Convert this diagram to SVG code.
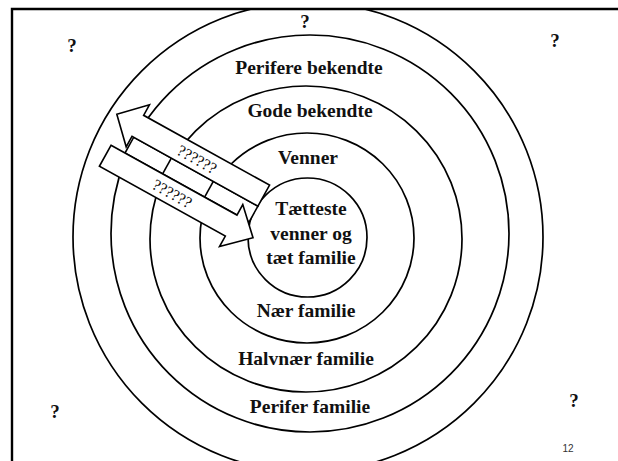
<svg xmlns="http://www.w3.org/2000/svg" width="618" height="461" viewBox="0 0 618 461">
  <style>
    .ring { fill: none; stroke: #000; stroke-width: 1.7; }
    .lbl { font-family: "Liberation Serif", "Times New Roman", serif; font-weight: bold; font-size: 19.5px; fill: #111; text-anchor: middle; }
    .q { font-family: "Liberation Serif", "Times New Roman", serif; font-weight: bold; font-size: 19px; fill: #111; text-anchor: middle; }
    .shape { fill: #fff; stroke: #000; stroke-width: 1.6; stroke-linejoin: miter; }
    .div { stroke: #000; stroke-width: 1.6; }
    .small { font-family: "Liberation Serif", "Times New Roman", serif; font-size: 16px; fill: #111; text-anchor: middle; }
    .pg { font-family: "Liberation Sans", Arial, sans-serif; font-size: 10px; fill: #333; text-anchor: middle; }
  </style>
  <defs>
    <clipPath id="frameclip"><rect x="0" y="9" width="618" height="452"/></clipPath>
  </defs>
  <rect width="618" height="461" fill="#fff"/>

  <g id="rings" clip-path="url(#frameclip)">
    <g id="ring-outer"><ellipse class="ring" cx="308" cy="237" rx="235" ry="235"/></g>
    <g id="ring-perifere"><ellipse class="ring" cx="310" cy="233.5" rx="199" ry="198.5"/></g>
    <g id="ring-gode"><ellipse class="ring" cx="306" cy="239" rx="156" ry="153"/></g>
    <g id="ring-venner"><ellipse class="ring" cx="307" cy="238" rx="107" ry="105"/></g>
    <g id="ring-inner"><ellipse class="ring" cx="307.5" cy="237.5" rx="59.5" ry="59.5"/></g>
  </g>

  <g id="frame" stroke="#000" stroke-width="2.4" fill="none">
    <path d="M12 461 V9 H618"/>
  </g>

  <g id="labels">
    <g id="n-perifere-bekendte"><text class="lbl" x="309" y="74">Perifere bekendte</text></g>
    <g id="n-gode-bekendte"><text class="lbl" x="310" y="117">Gode bekendte</text></g>
    <g id="n-venner"><text class="lbl" x="308" y="164">Venner</text></g>
    <g id="n-taetteste">
      <text class="lbl" x="311" y="215">Tætteste</text>
      <text class="lbl" x="311" y="240">venner og</text>
      <text class="lbl" x="311" y="264">tæt familie</text>
    </g>
    <g id="n-naer-familie"><text class="lbl" x="306" y="317">Nær familie</text></g>
    <g id="n-halvnaer-familie"><text class="lbl" x="306" y="365">Halvnær familie</text></g>
    <g id="n-perifer-familie"><text class="lbl" x="310" y="413">Perifer familie</text></g>
  </g>

  <g id="questions">
    <text class="q" x="305" y="28">?</text>
    <text class="q" x="72" y="52">?</text>
    <text class="q" x="555" y="47">?</text>
    <text class="q" x="55" y="418">?</text>
    <text class="q" x="574" y="407">?</text>
  </g>

  <g id="connectors" transform="translate(117.3 113.3) rotate(29)">
    <g id="table">
      <rect class="shape" x="26" y="13" width="142" height="18"/>
      <line class="div" x1="69" y1="13" x2="69" y2="31"/>
      <line class="div" x1="117" y1="13" x2="117" y2="31"/>
    </g>
    <g id="arrow-out">
      <polygon class="shape" points="0,1 24,-23 24,-11 168,-11 168,13 24,13 24,25"/>
      <text class="small" x="92" y="7">??????</text>
    </g>
    <g id="arrow-in">
      <polygon class="shape" points="10,31 154,31 154,19 179,43 154,67 154,55 10,55"/>
      <text class="small" x="87" y="49">??????</text>
    </g>
  </g>

  <g id="page-number"><text class="pg" x="568" y="452">12</text></g>
</svg>
